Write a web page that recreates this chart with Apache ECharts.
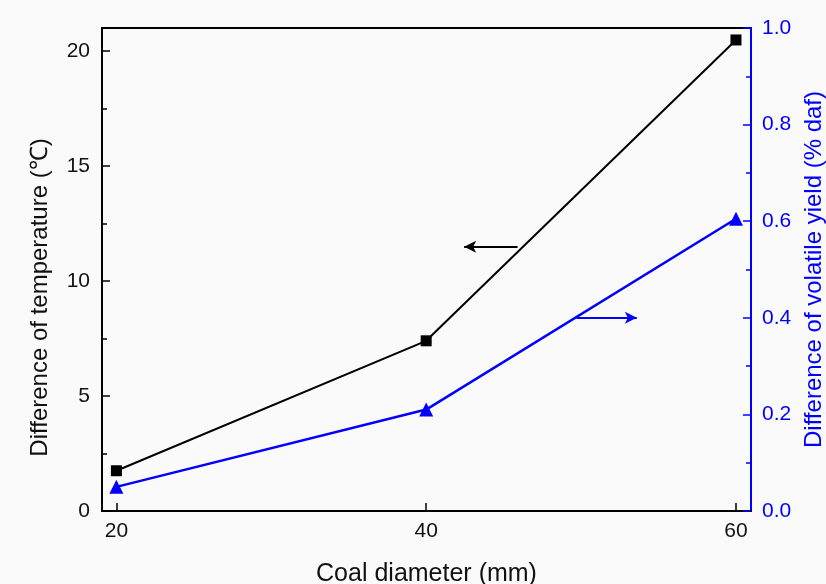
<!DOCTYPE html>
<html><head><meta charset="utf-8">
<script src="https://cdn.jsdelivr.net/npm/echarts@6/dist/echarts.min.js"></script>
<style>html,body{margin:0;padding:0;background:#fafafa;}#c{width:826px;height:584px;}</style>
</head><body><div id="c"></div>
<script>
const diameters = [20, 40, 60];
const tempDiff = [1.75, 7.4, 20.48];
const volatileDiff = [0.05, 0.21, 0.605];
const leftLabels = [0, 5, 10, 15, 20];
const leftMinor = [2.5, 7.5, 12.5, 17.5];
const xLabels = [20, 40, 60];
const tempArrow = [[45.9, 11.49], [42.45, 11.49]];
const volArrow = [[49.7, 0.40], [53.6, 0.40]];

const font = 'Liberation Sans, Arial, sans-serif';
const chart = echarts.init(document.getElementById('c'));
const xMin = 19.07, xMax = 60.97, yMax = 21.0;
chart.setOption({
  backgroundColor: '#fafafa',
  animation: false,
  grid: {left: 102, right: 75, top: 28, bottom: 73, show: true, borderColor: '#000', borderWidth: 2,
         backgroundColor: 'transparent', outerBoundsMode: 'none', containLabel: false},
  xAxis: [{
    type: 'value', min: xMin, max: xMax,
    name: 'Coal diameter (mm)', nameLocation: 'middle', nameGap: 51,
    nameTextStyle: {fontFamily: font, fontSize: 25, color: '#111'},
    axisLine: {lineStyle: {color: '#000', width: 2}},
    axisTick: {inside: true, length: 8, lineStyle: {color: '#000', width: 1.5}, customValues: xLabels},
    axisLabel: {customValues: xLabels, fontFamily: font, fontSize: 21, color: '#111', margin: 10},
    splitLine: {show: false}
  }],
  yAxis: [{
    type: 'value', min: 0, max: yMax, position: 'left',
    name: 'Difference of temperature (\u2103)', nameLocation: 'middle', nameGap: 50, nameRotate: 90,
    nameTextStyle: {fontFamily: font, fontSize: 24, color: '#111', padding: [0, 56, 0, 0]},
    axisLine: {show: true, lineStyle: {color: '#000', width: 2}},
    axisTick: {inside: true, length: 8, lineStyle: {color: '#000', width: 1.5}, customValues: leftLabels},
    axisLabel: {customValues: leftLabels, fontFamily: font, fontSize: 21, color: '#111', margin: 12},
    splitLine: {show: false}
  }, {
    type: 'value', min: 0, max: 1, interval: 0.2, position: 'right',
    name: 'Difference of volatile yield (% daf)', nameLocation: 'middle', nameGap: 49, nameRotate: 90,
    nameTextStyle: {fontFamily: font, fontSize: 24, color: '#0000ff'},
    axisLine: {show: true, lineStyle: {color: '#0000ff', width: 2}},
    axisTick: {inside: true, length: 8, lineStyle: {color: '#0000ff', width: 1.5}},
    minorTick: {show: true, splitNumber: 2, length: 5, lineStyle: {color: '#0000ff', width: 1.5}},
    axisLabel: {fontFamily: font, fontSize: 21, color: '#0000ff', margin: 11, formatter: v => v.toFixed(1)},
    splitLine: {show: false}, minorSplitLine: {show: false}
  }, {
    type: 'value', min: 0, max: yMax, position: 'left',
    axisLine: {show: false},
    axisTick: {show: true, inside: true, length: 5, lineStyle: {color: '#000', width: 1.5}, customValues: leftMinor},
    axisLabel: {show: false},
    splitLine: {show: false}
  }],
  series: [{
    type: 'line', yAxisIndex: 0,
    data: diameters.map((d, i) => [d, tempDiff[i]]),
    symbol: 'rect', symbolSize: 11,
    lineStyle: {color: '#000', width: 2},
    itemStyle: {color: '#000'},
    markLine: {
      silent: true, symbol: ['none', 'arrow'], symbolSize: [9, 12],
      label: {show: false},
      lineStyle: {color: '#000', width: 2, type: 'solid'},
      data: [[{coord: tempArrow[0]}, {coord: tempArrow[1]}]]
    }
  }, {
    type: 'line', yAxisIndex: 1,
    data: diameters.map((d, i) => [d, volatileDiff[i]]),
    symbol: 'triangle', symbolSize: 14,
    lineStyle: {color: '#0000ff', width: 2.5},
    itemStyle: {color: '#0000ff'},
    markLine: {
      silent: true, symbol: ['none', 'arrow'], symbolSize: [9, 12],
      label: {show: false},
      lineStyle: {color: '#0000ff', width: 2, type: 'solid'},
      data: [[{coord: volArrow[0]}, {coord: volArrow[1]}]]
    }
  }]
});
</script></body></html>
